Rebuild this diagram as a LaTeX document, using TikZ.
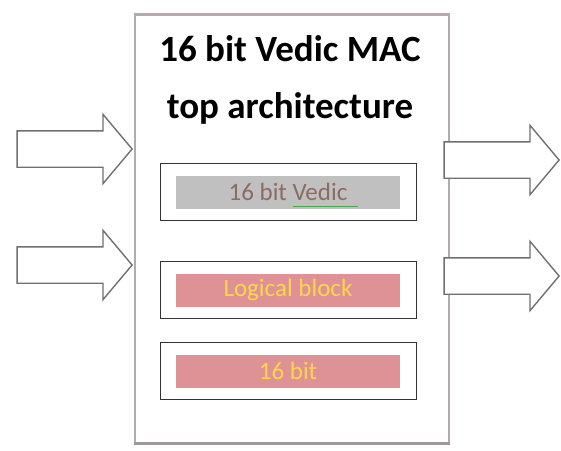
\documentclass[tikz,border=0pt]{standalone}
\usepackage{fontspec}
\setmainfont{Carlito}
\usetikzlibrary{shapes.arrows}

\definecolor{frame}{RGB}{178,170,172}
\definecolor{arrowgray}{RGB}{112,112,112}
\definecolor{vedicgray}{RGB}{192,192,192}
\definecolor{vedictext}{RGB}{140,108,98}
\definecolor{blockpink}{RGB}{222,146,150}
\definecolor{blockyellow}{RGB}{255,214,72}

\begin{document}
\begin{tikzpicture}[x=1pt,y=-1pt,
  port/.style={shape=single arrow,draw=arrowgray,fill=white,line width=1.4pt,
    minimum height=115pt,inner xsep=0pt,inner ysep=17.5pt,
    single arrow head extend=16.5pt,single arrow tip angle=100},
  unit/.style={shape=rectangle,draw=black!80,line width=1pt,minimum width=256pt,minimum height=57pt},
  strip/.style={shape=rectangle,minimum width=224pt,minimum height=33pt,inner sep=0pt,font=\fontsize{25}{28}\selectfont}]
\useasboundingbox (0,0) rectangle (561,450);

\node[shape=rectangle,draw=frame,line width=1.6pt,minimum width=314pt,minimum height=428pt] (mac) at (292,229) {};
\draw[frame!90!black,line width=3pt] (mac.south west) -- (mac.south east);
\draw[frame,line width=2.4pt] (mac.north west) -- (mac.north east);
\node[align=center,font=\bfseries\fontsize{37}{57}\selectfont] (title) at (290,80) {16 bit Vedic MAC\\top architecture};

\node[unit] (u1) at (288,192) {};
\node[unit] (u2) at (288,290) {};
\node[unit] (u3) at (288,371) {};
\node[strip,fill=vedicgray,text=vedictext] (vedic) at (u1) {16 bit Vedic};
\node[strip,fill=blockpink,text=blockyellow] (logic) at (u2) {Logical block};
\node[strip,fill=blockpink,text=blockyellow] (bits) at (u3) {16 bit};
\draw[green!50!black!70,line width=0.8pt] ([xshift=5pt,yshift=-14pt]vedic.center) -- ([xshift=70pt,yshift=-14pt]vedic.center);

\node[port,anchor=tip] (in1) at (133,149) {};
\node[port,anchor=tip] (in2) at (133,265) {};
\node[port,anchor=tip] (out1) at (560,160) {};
\node[port,anchor=tip] (out2) at (560,276) {};
\end{tikzpicture}
\end{document}
